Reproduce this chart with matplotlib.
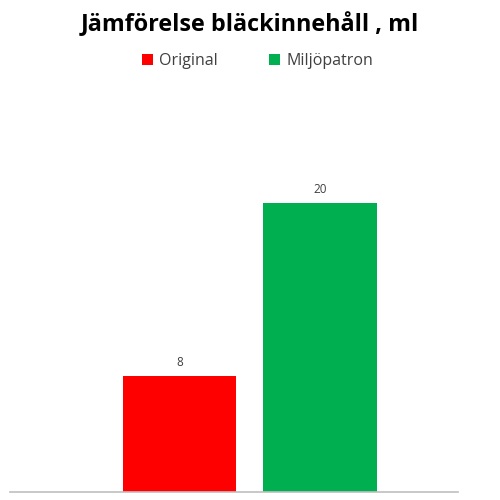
import matplotlib.pyplot as plt
from matplotlib.patches import Patch

series = ['Original', 'Miljöpatron']
values = [8, 20]
colors = ['#ff0000', '#00b050']

plt.rcParams['font.family'] = ['Open Sans', 'DejaVu Sans']

fig = plt.figure(figsize=(5, 5), dpi=100)
ax = fig.add_axes([0.02, 0.016, 0.896, 0.824])

x = [0, 1]
bars = ax.bar(x, values, width=0.81, color=colors, edgecolor='none')
for xi, v in zip(x, values):
    ax.annotate(str(v), (xi, v), xytext=(0, 5), textcoords='offset points',
                ha='center', va='bottom', fontsize=8.5, color='#404040')

ax.set_xlim(-1.206, 1.982)
ax.set_ylim(0, 28.5)
for s in ['top', 'right', 'left']:
    ax.spines[s].set_visible(False)
ax.spines['bottom'].set_color('#bfbfbf')
ax.spines['bottom'].set_linewidth(1.2)
ax.set_xticks([])
ax.set_yticks([])

fig.text(0.5, 0.951, 'Jämförelse bläckinnehåll , ml', ha='center', va='center',
         fontsize=16.8, fontweight='bold', color='#000000')

handles = [Patch(facecolor=c, edgecolor='none', label=s) for s, c in zip(series, colors)]
fig.legend(handles=handles, loc='center', bbox_to_anchor=(0.515, 0.878), ncol=2,
           frameon=False, fontsize=11.5, handlelength=0.7, handleheight=0.7,
           handletextpad=0.4, columnspacing=3.2, labelcolor='#404040')

fig.savefig('out.png')
